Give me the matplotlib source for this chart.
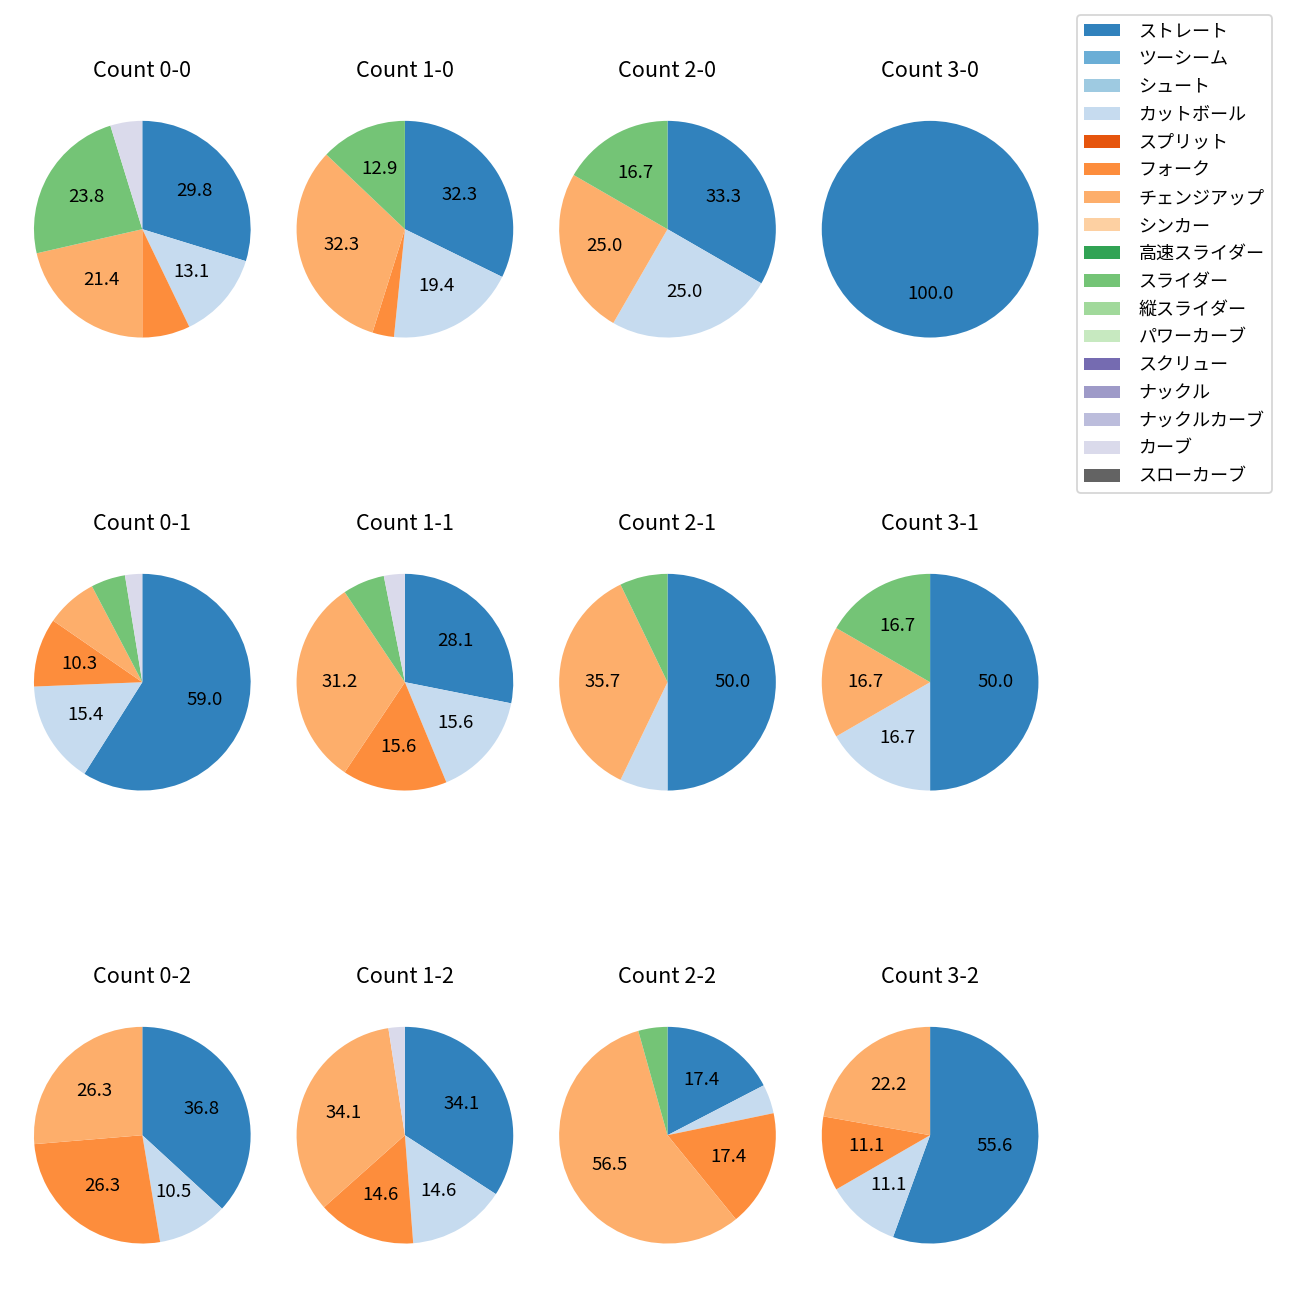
import matplotlib
matplotlib.use("Agg")
import matplotlib.pyplot as plt
from matplotlib.patches import Patch
import numpy as np

plt.rcParams['font.family'] = ['Noto Sans CJK JP', 'DejaVu Sans']

# pitch types, in legend / wedge order
pitch_types = ['ストレート', 'ツーシーム', 'シュート', 'カットボール', 'スプリット',
               'フォーク', 'チェンジアップ', 'シンカー', '高速スライダー', 'スライダー',
               '縦スライダー', 'パワーカーブ', 'スクリュー', 'ナックル', 'ナックルカーブ',
               'カーブ', 'スローカーブ']
colors = plt.get_cmap('tab20c')(np.arange(17))

# pitch counts per ball-strike count (same order as pitch_types)
count_0_0 = [25, 0, 0, 11, 0, 6, 18, 0, 0, 20, 0, 0, 0, 0, 0, 4, 0]
count_1_0 = [10, 0, 0, 6, 0, 1, 10, 0, 0, 4, 0, 0, 0, 0, 0, 0, 0]
count_2_0 = [4, 0, 0, 3, 0, 0, 3, 0, 0, 2, 0, 0, 0, 0, 0, 0, 0]
count_3_0 = [1, 0, 0, 0, 0, 0, 0, 0, 0, 0, 0, 0, 0, 0, 0, 0, 0]
count_0_1 = [23, 0, 0, 6, 0, 4, 3, 0, 0, 2, 0, 0, 0, 0, 0, 1, 0]
count_1_1 = [9, 0, 0, 5, 0, 5, 10, 0, 0, 2, 0, 0, 0, 0, 0, 1, 0]
count_2_1 = [7, 0, 0, 1, 0, 0, 5, 0, 0, 1, 0, 0, 0, 0, 0, 0, 0]
count_3_1 = [3, 0, 0, 1, 0, 0, 1, 0, 0, 1, 0, 0, 0, 0, 0, 0, 0]
count_0_2 = [7, 0, 0, 2, 0, 5, 5, 0, 0, 0, 0, 0, 0, 0, 0, 0, 0]
count_1_2 = [14, 0, 0, 6, 0, 6, 14, 0, 0, 0, 0, 0, 0, 0, 0, 1, 0]
count_2_2 = [4, 0, 0, 1, 0, 4, 13, 0, 0, 1, 0, 0, 0, 0, 0, 0, 0]
count_3_2 = [5, 0, 0, 1, 0, 1, 2, 0, 0, 0, 0, 0, 0, 0, 0, 0, 0]

grid = [
    [('0-0', count_0_0), ('1-0', count_1_0), ('2-0', count_2_0), ('3-0', count_3_0)],
    [('0-1', count_0_1), ('1-1', count_1_1), ('2-1', count_2_1), ('3-1', count_3_1)],
    [('0-2', count_0_2), ('1-2', count_1_2), ('2-2', count_2_2), ('3-2', count_3_2)],
]

def autopct(pct):
    return '%.1f' % pct if pct >= 10 else ''

fig = plt.figure(figsize=(10, 10), dpi=130)
W = H = 1300.0
side = 283.0
for i, row in enumerate(grid):
    for j, (name, counts) in enumerate(row):
        cx = 142.3 + 262.6 * j
        cy = 229.2 + 453.0 * i
        ax = fig.add_axes([(cx - side / 2) / W, 1 - (cy + side / 2) / H, side / W, side / H])
        counts = np.array(counts)
        keep = counts > 0
        ax.pie(counts[keep], colors=colors[keep], startangle=90, counterclock=False,
               autopct=autopct, radius=0.957, textprops={'fontsize': 10.3})
        ax.set_title('Count ' + name, fontsize=12)

handles = [Patch(facecolor=c) for c in colors]
fig.legend(handles, pitch_types, loc='upper left', borderaxespad=0,
           bbox_to_anchor=(1077 / W, 1 - 15 / H), fontsize=10,
           labelspacing=0.545, handletextpad=1.0)

fig.savefig('out.png', dpi=130)
